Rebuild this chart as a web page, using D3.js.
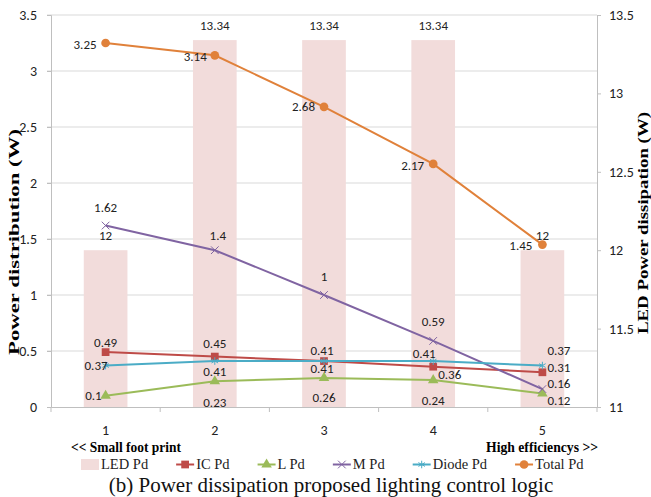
<!DOCTYPE html>
<html>
<head>
<meta charset="utf-8">
<script src="https://cdn.jsdelivr.net/npm/d3@7"></script>
<style>
  body { margin: 0; background: #fff; }
  svg { display: block; }
</style>
</head>
<body>
<svg id="chart" width="651" height="497"></svg>
<script>
// ---- data ----
const categories = ["1", "2", "3", "4", "5"];
const ledPd   = [12, 13.34, 13.34, 13.34, 12];
const icPd    = [0.49, 0.45, 0.41, 0.36, 0.31];
const lPd     = [0.1, 0.23, 0.26, 0.24, 0.12];
const mPd     = [1.62, 1.4, 1, 0.59, 0.16];
const diodePd = [0.37, 0.41, 0.41, 0.41, 0.37];
const totalPd = [3.25, 3.14, 2.68, 2.17, 1.45];
const leftTicks  = [0, 0.5, 1, 1.5, 2, 2.5, 3, 3.5];
const rightTicks = [11, 11.5, 12, 12.5, 13, 13.5];

// ---- layout ----
const plot = { left: 51, right: 597, top: 15, bottom: 407 };
const numFont = "Carlito, 'Liberation Sans Narrow', 'Arial Narrow', Lato, sans-serif";
const serif = "'Liberation Serif', 'Times New Roman', serif";
const numSize = 13;

const svg = d3.select("#chart");

const x = d3.scaleBand().domain(categories)
  .range([plot.left, plot.right]).paddingInner(0.6).paddingOuter(0.3);
const cx = c => x(c) + x.bandwidth() / 2;
const yL = d3.scaleLinear().domain([0, 3.5]).range([plot.bottom, plot.top]);
const yR = d3.scaleLinear().domain([11, 13.5]).range([plot.bottom, plot.top]);

// gridlines
svg.append("g").selectAll("line")
  .data(leftTicks.filter(t => t > 0)).join("line")
  .attr("x1", plot.left - 4).attr("x2", plot.right)
  .attr("y1", d => yL(d)).attr("y2", d => yL(d))
  .attr("stroke", "#D9D9D9").attr("stroke-width", 1);

// left axis
const gL = svg.append("g").attr("transform", `translate(${plot.left},0)`)
  .call(d3.axisLeft(yL).tickValues(leftTicks).tickFormat(d3.format("")).tickSize(4).tickPadding(10));
gL.select(".domain").attr("stroke", "#BFBFBF");
gL.selectAll(".tick line").attr("stroke", "#BFBFBF");
gL.selectAll("text").attr("font-family", numFont).attr("font-size", 14).attr("fill", "#222");

// right axis
const gR = svg.append("g").attr("transform", `translate(${plot.right},0)`)
  .call(d3.axisRight(yR).tickValues(rightTicks).tickFormat(d3.format("")).tickSize(4).tickPadding(8));
gR.select(".domain").attr("stroke", "#BFBFBF");
gR.selectAll(".tick line").attr("stroke", "#BFBFBF");
gR.selectAll("text").attr("font-family", numFont).attr("font-size", 14).attr("fill", "#222");

// LED bars (secondary axis)
svg.append("g").selectAll("rect")
  .data(categories).join("rect")
  .attr("x", c => x(c)).attr("width", x.bandwidth())
  .attr("y", (c, i) => yR(ledPd[i]))
  .attr("height", (c, i) => yR(11) - yR(ledPd[i]))
  .attr("fill", "#F2DCDB");

// bottom axis
const gB = svg.append("g").attr("transform", `translate(0,${plot.bottom})`)
  .call(d3.axisBottom(x).tickSize(0).tickPadding(18));
gB.select(".domain").attr("stroke", "#BFBFBF");
gB.selectAll("text").attr("font-family", numFont).attr("font-size", 14).attr("fill", "#222");
const bounds = [plot.left].concat(categories.map(c => cx(c) + x.step() / 2));
svg.append("g").selectAll("line").data(bounds).join("line")
  .attr("x1", d => d).attr("x2", d => d)
  .attr("y1", plot.bottom).attr("y2", plot.bottom + 5)
  .attr("stroke", "#BFBFBF");

// line series
const series = [
  { name: "IC Pd",    values: icPd,    color: "#BE4B48", symbol: d3.symbolSquare,   size: 60, filled: true },
  { name: "L Pd",     values: lPd,     color: "#9BBB59", symbol: d3.symbolTriangle, size: 48, filled: true },
  { name: "M Pd",     values: mPd,     color: "#8064A2", symbol: d3.symbolTimes,    size: 40, filled: false },
  { name: "Diode Pd", values: diodePd, color: "#4BACC6", symbol: d3.symbolAsterisk, size: 40, filled: false },
  { name: "Total Pd", values: totalPd, color: "#E0813A", symbol: d3.symbolCircle,   size: 60, filled: true }
];

// value label placement: [anchor, dx, dy] relative to each point
const labelPlacement = {
  "IC Pd":    [["middle", 0, -10], ["middle", 0, -13], ["middle", -2, -11], ["start", 5, 8], ["start", 5, -5]],
  "L Pd":     [["end", -4, 0], ["middle", 0, 21], ["middle", 0, 20], ["middle", 0, 20], ["start", 5, 6.5]],
  "M Pd":     [["middle", 0, -18], ["middle", 3, -15], ["middle", 0, -19], ["middle", 0, -19], ["start", 5, -5.5]],
  "Diode Pd": [["end", 2, 0], ["middle", 0, 10], ["middle", -2, 7], ["middle", -9, -8], ["start", 5, -15]],
  "Total Pd": [["end", -9, 1], ["end", -8, 1], ["end", -9, 0], ["end", -9, 1], ["end", -10, 1]]
};

const line = d3.line().x(d => cx(d.c)).y(d => yL(d.v));

series.forEach(s => {
  const pts = categories.map((c, i) => ({ c, v: s.values[i] }));
  const g = svg.append("g");
  g.append("path").datum(pts).attr("d", line)
    .attr("fill", "none").attr("stroke", s.color).attr("stroke-width", 2);
  g.selectAll("path.mk").data(pts).join("path").attr("class", "mk")
    .attr("transform", d => `translate(${cx(d.c)},${yL(d.v)})`)
    .attr("d", d3.symbol(s.symbol, s.size))
    .attr("fill", s.filled ? s.color : "none")
    .attr("stroke", s.color).attr("stroke-width", s.filled ? 0 : 1);
});

// value labels
series.forEach(s => {
  categories.forEach((c, i) => {
    const [anchor, dx, dy] = labelPlacement[s.name][i];
    svg.append("text")
      .attr("x", cx(c) + dx).attr("y", yL(s.values[i]) + dy)
      .attr("dy", "0.35em").attr("text-anchor", anchor)
      .attr("font-family", numFont).attr("font-size", numSize).attr("fill", "#222")
      .text(s.values[i]);
  });
});
categories.forEach((c, i) => {
  svg.append("text")
    .attr("x", cx(c)).attr("y", yR(ledPd[i]) - 15)
    .attr("dy", "0.35em").attr("text-anchor", "middle")
    .attr("font-family", numFont).attr("font-size", numSize).attr("fill", "#222")
    .text(ledPd[i]);
});

// axis titles
svg.append("text")
  .attr("transform", "translate(19,242) rotate(-90)")
  .attr("text-anchor", "middle")
  .attr("font-family", serif).attr("font-weight", "bold").attr("font-size", 14)
  .attr("textLength", 226).attr("lengthAdjust", "spacingAndGlyphs")
  .text("Power distribution (W)");
svg.append("text")
  .attr("transform", "translate(648,223) rotate(-90)")
  .attr("text-anchor", "middle")
  .attr("font-family", serif).attr("font-weight", "bold").attr("font-size", 14)
  .attr("textLength", 222).attr("lengthAdjust", "spacingAndGlyphs")
  .text("LED Power dissipation (W)");

// direction notes
svg.append("text").attr("x", 71).attr("y", 452)
  .attr("font-family", serif).attr("font-weight", "bold").attr("font-size", 15)
  .attr("textLength", 110).attr("lengthAdjust", "spacingAndGlyphs")
  .text("<< Small foot print");
svg.append("text").attr("x", 598).attr("y", 452).attr("text-anchor", "end")
  .attr("font-family", serif).attr("font-weight", "bold").attr("font-size", 15)
  .attr("textLength", 112).attr("lengthAdjust", "spacingAndGlyphs")
  .text("High efficiencys >>");

// legend
const legendItems = [{ name: "LED Pd", bar: true }].concat(series);
let lx = 81;
const ly = 469;
legendItems.forEach(it => {
  const g = svg.append("g");
  if (it.bar) {
    g.append("rect").attr("x", lx).attr("y", ly - 10).attr("width", 18).attr("height", 11)
      .attr("fill", "#F2DCDB");
  } else {
    g.append("line").attr("x1", lx).attr("x2", lx + 18).attr("y1", ly - 4.5).attr("y2", ly - 4.5)
      .attr("stroke", it.color).attr("stroke-width", 2);
    g.append("path").attr("transform", `translate(${lx + 9},${ly - 4.5})`)
      .attr("d", d3.symbol(it.symbol, it.size))
      .attr("fill", it.filled ? it.color : "none")
      .attr("stroke", it.color).attr("stroke-width", it.filled ? 0 : 1);
  }
  const t = g.append("text").attr("x", lx + 20).attr("y", ly)
    .attr("font-family", serif).attr("font-size", 14.5).attr("fill", "#222")
    .text(it.name);
  lx += 20 + t.node().getComputedTextLength() + 28;
});

// caption
svg.append("text").attr("x", 331).attr("y", 492).attr("text-anchor", "middle")
  .attr("font-family", serif).attr("font-size", 21).attr("fill", "#111")
  .text("(b) Power dissipation proposed lighting control logic");
</script>
</body>
</html>
